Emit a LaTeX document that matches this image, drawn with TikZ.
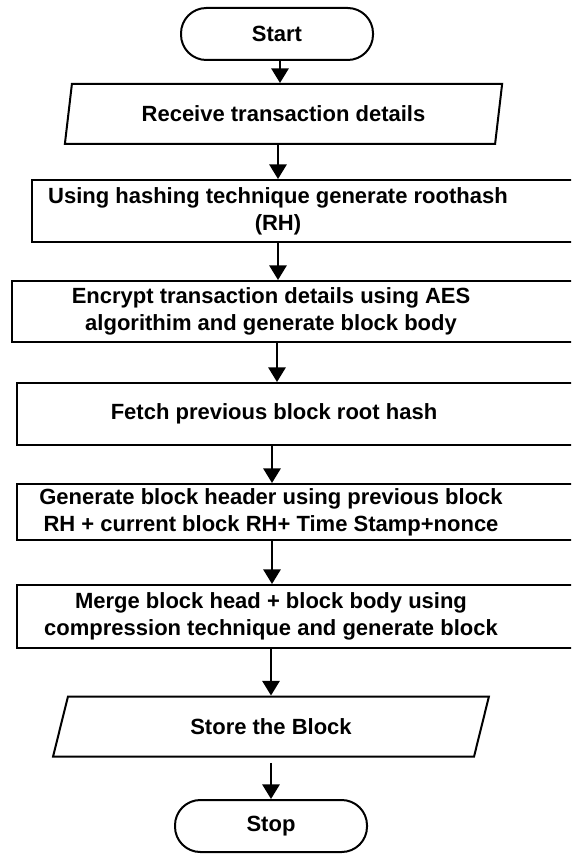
\documentclass[tikz,border=0pt]{standalone}
\usepackage{fontspec}
\setmainfont{Liberation Sans}
\usetikzlibrary{arrows.meta,shapes.geometric}

\tikzset{
  term/.style={draw,line width=1.5pt,rectangle,rounded corners=19pt,minimum width=144pt,minimum height=39pt},
  io/.style={draw,line width=1.5pt,trapezium,trapezium stretches=true,minimum height=45pt},
  proc/.style={draw,line width=1.5pt,rectangle,anchor=west},
  txt/.style={align=center,font=\fontsize{16.5}{20}\selectfont\bfseries},
  arr/.style={-{Triangle[width=13pt,length=11pt]},line width=1.5pt}
}

\begin{document}
\begin{tikzpicture}[x=0.75pt,y=-0.75pt,font=\fontsize{16.5}{20}\selectfont\bfseries]
\clip (0,0) rectangle (571,855);
\fill[white] (0,0) rectangle (571,855);

\node[term] (start) at (277,34) {Start};
\node[io,trapezium left angle=79,trapezium right angle=101,minimum width=328pt] (recv) at (283.5,114) {Receive transaction details};
\node[proc,minimum width=426.75pt,minimum height=46.5pt,
  label={[txt,xshift=-28.9pt]center:Using hashing technique generate roothash\\(RH)}] (hash) at (31,211) {};
\node[proc,minimum width=441.75pt,minimum height=45.75pt,
  label={[txt,xshift=-26.6pt]center:Encrypt transaction details using AES\\algorithim and generate block body}] (aes) at (11,311.5) {};
\node[proc,minimum width=438pt,minimum height=46.5pt,
  label={[txt,xshift=-26.25pt]center:Fetch previous block root hash}] (fetch) at (16,414) {};
\node[proc,minimum width=438pt,minimum height=42pt,
  label={[txt,xshift=-28.5pt]center:Generate block header using previous block\\RH + current block RH+ Time Stamp+nonce}] (gen) at (16,512) {};
\node[proc,minimum width=438pt,minimum height=47.25pt,
  label={[txt,xshift=-28.5pt]center:Merge block head + block body using\\compression technique and generate block}] (merge) at (16,616.5) {};
\node[io,trapezium left angle=76,trapezium right angle=104,minimum width=327pt] (store) at (271,726.5) {Store the Block};
\node[term] (stop) at (271,826) {Stop};

% connectors
\draw[arr] (start.south -| 280,0) -- (recv.north -| 280,0);
\draw[arr] (recv.south -| 278,0) -- (hash.north -| 278,0);
\draw[arr] (hash.south -| 278,0) -- (aes.north -| 278,0);
\draw[arr] (aes.south -| 277,0) -- (fetch.north -| 277,0);
\draw[arr] (fetch.south -| 272,0) -- (gen.north -| 272,0);
\draw[arr] (gen.south -| 272,0) -- (merge.north -| 272,0);
\draw[arr] (merge.south -| 271,0) -- (store.north -| 271,0);
\draw[arr] ([yshift=-4pt]store.south -| 271,0) -- (stop.north -| 271,0);
\end{tikzpicture}
\end{document}
